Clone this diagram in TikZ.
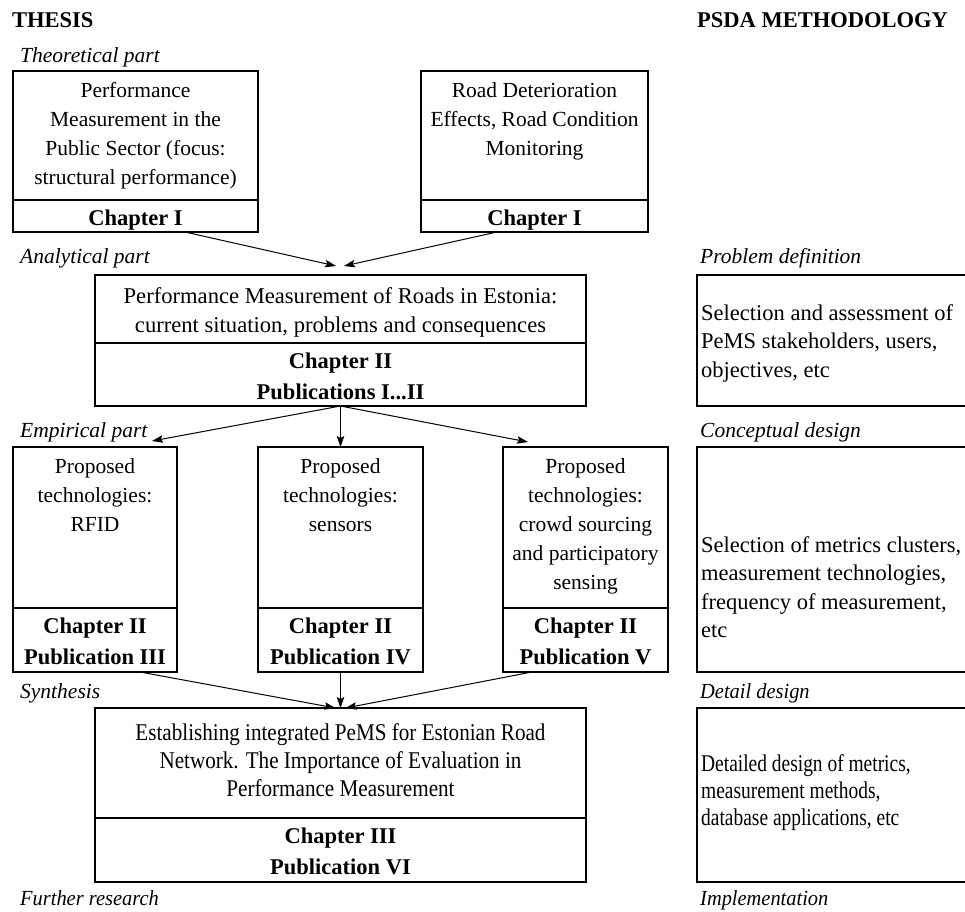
\documentclass[tikz,border=0pt]{standalone}
\usepackage{fontspec}
\setmainfont{Liberation Serif}
\newfontfamily\narrowserif[FakeStretch=0.95]{Liberation Serif}
\newfontfamily\synthserif[FakeStretch=0.88]{Liberation Serif}
\newfontfamily\detailserif[FakeStretch=0.81]{Liberation Serif}
\usetikzlibrary{arrows.meta}

\newcommand\bodysize{\fontsize{21.5}{29}\selectfont}
\newcommand\widesize{\fontsize{22.6}{29}\selectfont}
\newcommand\notesize{\fontsize{22.5}{28.5}\selectfont}
\newcommand\chapsize{\fontsize{22.5}{31}\selectfont\bfseries}
\newcommand\st{\rule{0pt}{16pt}}

\begin{document}
\begin{tikzpicture}[x=1pt,y=-1pt,
  frame/.style={draw, line width=1.8pt, anchor=north west, inner sep=0pt, outer sep=0pt},
  body/.style={font=\bodysize, inner sep=0pt, align=center, anchor=north},
  chap/.style={font=\chapsize, inner sep=0pt, align=center, anchor=north},
  note/.style={font=\notesize, inner sep=0pt, align=left, anchor=north west},
  part/.style={font=\bodysize\itshape, inner sep=0pt, anchor=base west},
  lowpart/.style={part, font=\narrowserif\bodysize\itshape},
  head/.style={font=\fontsize{22.5}{27}\selectfont\bfseries, inner sep=0pt, anchor=base west},
  link/.style={line width=1pt, -{Stealth[length=11pt,width=7.5pt,inset=2pt]}}
]
\useasboundingbox (0,0) rectangle (965,911);
\clip (0,0) rectangle (965,911);

% column headings
\node[head] (hthesis) at (12,27) {THESIS};
\node[head] (hpsda) at (697,27) {PSDA METHODOLOGY};

% phase labels, thesis side
\node[part] (ltheo) at (20,62) {Theoretical part};
\node[part] (lanal) at (20,263) {Analytical part};
\node[part] (lemp) at (20,437) {Empirical part};
\node[part] (lsyn) at (20,698) {Synthesis};
\node[lowpart] (lfur) at (20,905) {Further research};

% phase labels, methodology side
\node[part] (lprob) at (700,263) {Problem definition};
\node[part] (lconc) at (700,437) {Conceptual design};
\node[lowpart] (ldet) at (700,698) {Detail design};
\node[lowpart] (limp) at (700,905) {Implementation};

% theoretical part
\node[frame, minimum width=245pt, minimum height=129pt] (t1) at (13,71) {};
\node[frame, minimum width=245pt, minimum height=32pt] (t1c) at (t1.south west) {};
\node[body] (t1x) at (135.5,81) {\st Performance\\Measurement in the\\Public Sector (focus:\\structural performance)};
\node[chap] (t1y) at (135.5,209) {\st Chapter I};

\node[frame, minimum width=227pt, minimum height=129pt] (t2) at (421,71) {};
\node[frame, minimum width=227pt, minimum height=32pt] (t2c) at (t2.south west) {};
\node[body] (t2x) at (534.5,81) {\st Road Deterioration\\Effects, Road Condition\\Monitoring};
\node[chap] (t2y) at (534.5,209) {\st Chapter I};

% analytical part
\node[frame, minimum width=491pt, minimum height=68pt] (t3) at (95,275) {};
\node[frame, minimum width=491pt, minimum height=63pt] (t3c) at (t3.south west) {};
\node[body, font=\widesize] (t3x) at (340.5,287) {\st Performance Measurement of Roads in Estonia:\\current situation, problems and consequences};
\node[chap] (t3y) at (340.5,352) {\st Chapter II\\Publications I...II};

% empirical part
\node[frame, minimum width=164pt, minimum height=161pt] (t4) at (13,447) {};
\node[frame, minimum width=164pt, minimum height=64pt] (t4c) at (t4.south west) {};
\node[body] (t4x) at (95,457) {\st Proposed\\technologies:\\RFID};
\node[chap] (t4y) at (95,617) {\st Chapter II\\Publication III};

\node[frame, minimum width=165pt, minimum height=161pt] (t5) at (258,447) {};
\node[frame, minimum width=165pt, minimum height=64pt] (t5c) at (t5.south west) {};
\node[body] (t5x) at (340.5,457) {\st Proposed\\technologies:\\sensors};
\node[chap] (t5y) at (340.5,617) {\st Chapter II\\Publication IV};

\node[frame, minimum width=165pt, minimum height=161pt] (t6) at (503,447) {};
\node[frame, minimum width=165pt, minimum height=64pt] (t6c) at (t6.south west) {};
\node[body] (t6x) at (585.5,457) {\st Proposed\\technologies:\\crowd sourcing\\and participatory\\sensing};
\node[chap] (t6y) at (585.5,617) {\st Chapter II\\Publication V};

% synthesis
\node[frame, minimum width=491pt, minimum height=110pt] (t7) at (95,708) {};
\node[frame, minimum width=491pt, minimum height=64pt] (t7c) at (t7.south west) {};
\node[body, font=\synthserif\fontsize{24}{28}\selectfont] (t7x) at (340.5,723) {\st Establishing integrated PeMS for Estonian Road\\Network. The Importance of Evaluation in\\Performance Measurement};
\node[chap] (t7y) at (340.5,827) {\st Chapter III\\Publication VI};

% methodology column
\node[frame, minimum width=280pt, minimum height=131pt] (p1) at (697,275) {};
\node[note] (p1x) at (701,304) {\st Selection and assessment of\\PeMS stakeholders, users,\\objectives, etc};

\node[frame, minimum width=280pt, minimum height=225pt] (p2) at (697,447) {};
\node[note] (p2x) at (701,536) {\st Selection of metrics clusters,\\measurement technologies,\\frequency of measurement,\\etc};

\node[frame, minimum width=280pt, minimum height=174pt] (p3) at (697,708) {};
\node[note, font=\detailserif\fontsize{24}{27}\selectfont] (p3x) at (701,754) {\st Detailed design of metrics,\\measurement methods,\\database applications, etc};

% arrow end points above the analytical box and beside the empirical boxes
\coordinate (m1) at (336,266);
\coordinate (m2) at (344,266);
\coordinate (e4) at (152,441);
\coordinate (e6) at (528,442);

% connectors
\draw[link] ([xshift=49.5pt]t1c.south) -- (m1);
\draw[link] ([xshift=-37.5pt]t2c.south) -- (m2);
\draw[link] (t3c.south) -- (e4);
\draw[link] (t3c.south) -- (t5.north);
\draw[link] (t3c.south) -- (e6);
\draw[link] ([xshift=45pt]t4c.south) -- ([xshift=-5pt]t7.north);
\draw[link] (t5c.south) -- (t7.north);
\draw[link] ([xshift=-53.5pt]t6c.south) -- ([xshift=5pt]t7.north);
\end{tikzpicture}
\end{document}
